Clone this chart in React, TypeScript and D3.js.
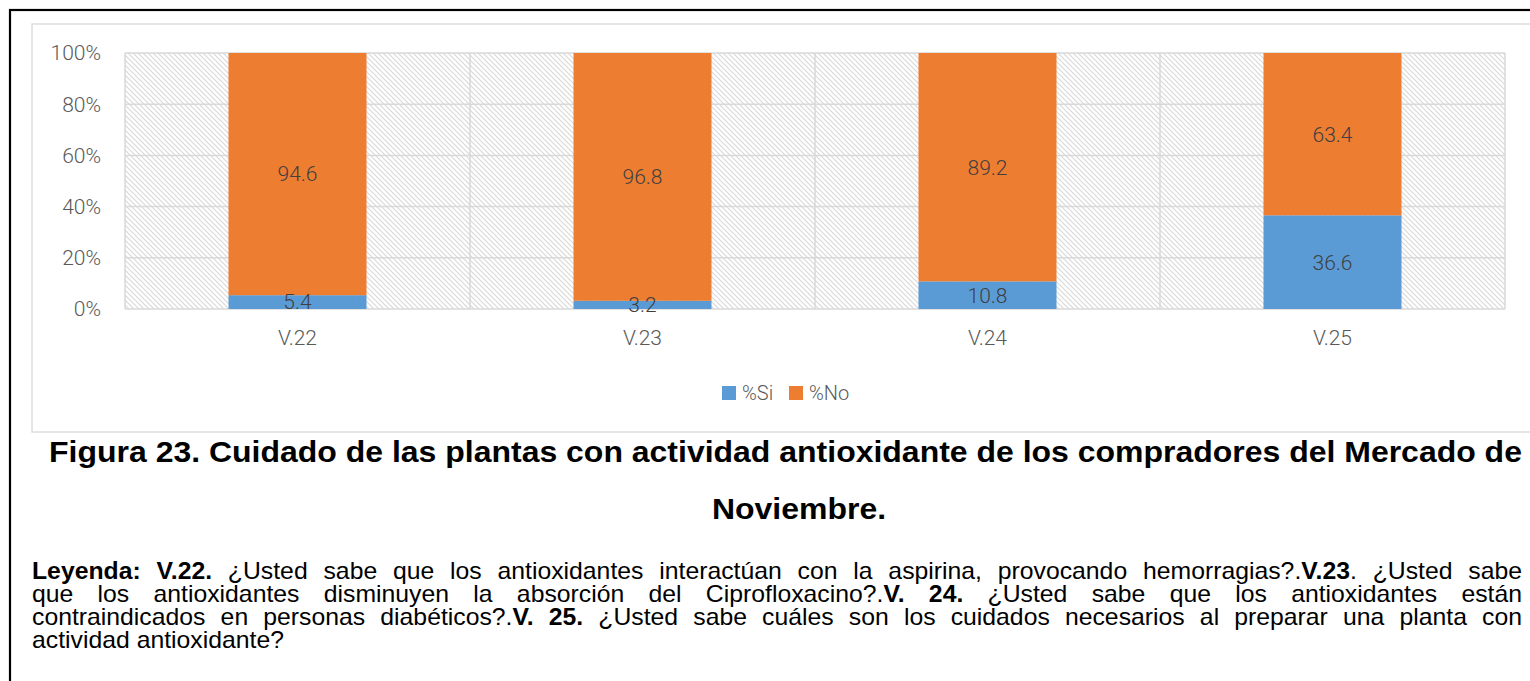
import React from "react";
import * as d3 from "d3";

const categories = ["V.22", "V.23", "V.24", "V.25"];
const siValues = [5.4, 3.2, 10.8, 36.6];
const noValues = [94.6, 96.8, 89.2, 63.4];
const seriesNames = ["%Si", "%No"];
const seriesColors = ["#5B9BD5", "#ED7D31"];
const yTicks = [0, 20, 40, 60, 80, 100];

const titleLines = [
  "Figura 23. Cuidado de las plantas con actividad antioxidante de los compradores del Mercado de",
  "Noviembre.",
];

type Run = { t: string; b?: boolean };
const legendLines: Run[][] = [
  [
    { t: "Leyenda: V.22.", b: true },
    { t: " ¿Usted sabe que los antioxidantes interactúan con la aspirina, provocando hemorragias?." },
    { t: "V.23", b: true },
    { t: ". ¿Usted sabe" },
  ],
  [
    { t: "que los antioxidantes disminuyen la absorción del Ciprofloxacino?." },
    { t: "V. 24.", b: true },
    { t: " ¿Usted sabe que los antioxidantes están" },
  ],
  [
    { t: "contraindicados en personas diabéticos?." },
    { t: "V. 25.", b: true },
    { t: " ¿Usted sabe cuáles son los cuidados necesarios al preparar una planta con" },
  ],
  [{ t: "actividad antioxidante?" }],
];

const CHART_FONT = "Roboto, 'Open Sans', sans-serif";
const DOC_FONT = "'Liberation Sans', Arial, sans-serif";
const PARA_SIZE = 23;
const PARA_SX = 1.077;
const TITLE_SIZE = 30;

let ctx: CanvasRenderingContext2D | null = null;
function measure(text: string, bold: boolean, size = PARA_SIZE) {
  if (!ctx) ctx = document.createElement("canvas").getContext("2d");
  if (!ctx) return text.length * size * 0.5;
  ctx.font = `${bold ? "bold " : ""}${size}px 'Liberation Sans', Arial, sans-serif`;
  return ctx.measureText(text).width;
}

function toWords(runs: Run[]) {
  const words: Run[][] = [];
  let cur: Run[] = [];
  runs.forEach((r) => {
    const parts = r.t.split(" ");
    parts.forEach((p, i) => {
      if (i > 0) {
        if (cur.length) words.push(cur);
        cur = [];
      }
      if (p.length) cur.push({ t: p, b: r.b });
    });
  });
  if (cur.length) words.push(cur);
  return words;
}

export default function App() {
  const W = 1530;
  const H = 681;
  const plot = { left: 125, right: 1505, top: 53, bottom: 309 };

  const x = d3
    .scaleBand<string>()
    .domain(categories)
    .range([plot.left, plot.right])
    .paddingInner(0.6)
    .paddingOuter(0.3);
  const step = x.step();
  const y = d3.scaleLinear().domain([0, 100]).range([plot.bottom, plot.top]);

  const table = categories.map((c, i) => ({ cat: c, si: siValues[i], no: noValues[i] }));
  const stacked = d3.stack<any>().keys(["si", "no"])(table);

  const boundaries = d3.range(categories.length + 1).map((i) => plot.left + i * step);

  const paraLeft = 32;
  const paraRight = 1522;
  const paraBaselines = [579, 602, 625, 648];

  // title line 1 spans 49..1522 in the figure
  const t1w = measure(titleLines[0], true, TITLE_SIZE);
  const titleSx = (1522 - 49) / t1w;
  const titleCenters = [785.5, 799];

  return (
    <svg
      width={W}
      height={H}
      style={{ position: "absolute", left: 0, top: 0, background: "#fff" }}
    >
      <defs>
        <pattern id="hatch" width="5" height="5" patternUnits="userSpaceOnUse">
          <rect width="5" height="5" fill="#ffffff" />
          <path d="M-1,-1 L6,6 M-1,4 L1,6 M4,-1 L6,1" stroke="#d9d9d9" strokeWidth="1.2" />
        </pattern>
      </defs>

      <rect x={10} y={10} width={1600} height={800} fill="none" stroke="#000" strokeWidth={2.2} />
      <rect x={32} y={24} width={1600} height={408} fill="none" stroke="#d9d9d9" strokeWidth={1.3} />

      <rect
        x={plot.left}
        y={plot.top}
        width={plot.right - plot.left}
        height={plot.bottom - plot.top}
        fill="url(#hatch)"
      />
      {yTicks.map((t) => (
        <line
          key={"g" + t}
          x1={plot.left}
          x2={plot.right}
          y1={y(t)}
          y2={y(t)}
          stroke="#d9d9d9"
          strokeWidth={1.5}
        />
      ))}
      {boundaries.map((bx, i) => (
        <line
          key={"v" + i}
          x1={bx}
          x2={bx}
          y1={plot.top}
          y2={plot.bottom}
          stroke="#d9d9d9"
          strokeWidth={1.5}
        />
      ))}

      {stacked.map((s, si) =>
        s.map((d, i) => (
          <rect
            key={si + "-" + i}
            x={x(categories[i])}
            width={x.bandwidth()}
            y={y(d[1])}
            height={y(d[0]) - y(d[1])}
            fill={seriesColors[si]}
          />
        ))
      )}
      {stacked.map((s, si) =>
        s.map((d, i) => (
          <text
            key={"l" + si + "-" + i}
            x={(x(categories[i]) as number) + x.bandwidth() / 2}
            y={(y(d[0]) + y(d[1])) / 2}
            dy="0.35em"
            textAnchor="middle"
            fontFamily={CHART_FONT}
            fontWeight={300}
            fontSize={21}
            fill="#404040"
          >
            {(si === 0 ? siValues[i] : noValues[i]).toFixed(1)}
          </text>
        ))
      )}

      {yTicks.map((t) => (
        <text
          key={"yt" + t}
          x={101}
          y={y(t)}
          dy="0.35em"
          textAnchor="end"
          fontFamily={CHART_FONT}
          fontWeight={300}
          fontSize={21}
          fill="#595959"
        >
          {t + "%"}
        </text>
      ))}
      {categories.map((c) => (
        <text
          key={"xt" + c}
          x={(x(c) as number) + x.bandwidth() / 2}
          y={338}
          dy="0.35em"
          textAnchor="middle"
          fontFamily={CHART_FONT}
          fontWeight={300}
          fontSize={21}
          fill="#595959"
        >
          {c}
        </text>
      ))}

      {seriesNames.map((n, i) => {
        const lx = i === 0 ? 722 : 789;
        return (
          <g key={"lg" + n}>
            <rect x={lx} y={386} width={14} height={14} fill={seriesColors[i]} />
            <text
              x={lx + 20}
              y={393}
              dy="0.35em"
              fontFamily={CHART_FONT}
              fontWeight={300}
              fontSize={20}
              fill="#595959"
            >
              {n}
            </text>
          </g>
        );
      })}

      {titleLines.map((t, i) => (
        <text
          key={"t" + i}
          transform={`translate(${titleCenters[i]},${462 + i * 57}) scale(${titleSx},1)`}
          textAnchor="middle"
          fontFamily={DOC_FONT}
          fontWeight="bold"
          fontSize={TITLE_SIZE}
          fill="#000"
        >
          {t}
        </text>
      ))}

      {legendLines.map((runs, li) => {
        const words = toWords(runs);
        const widths = words.map(
          (w) => w.reduce((a, r) => a + measure(r.t, !!r.b), 0) * PARA_SX
        );
        const total = widths.reduce((a, b) => a + b, 0);
        const justify = li < legendLines.length - 1 && words.length > 1;
        const gap = justify
          ? (paraRight - paraLeft - total) / (words.length - 1)
          : measure(" ", false) * PARA_SX;
        let cx = paraLeft;
        return (
          <g key={"p" + li}>
            {words.map((w, wi) => {
              const wx = cx;
              cx += widths[wi] + gap;
              return (
                <text
                  key={wi}
                  transform={`translate(${wx},${paraBaselines[li]}) scale(${PARA_SX},1)`}
                  fontFamily={DOC_FONT}
                  fontSize={PARA_SIZE}
                  fill="#000"
                >
                  {w.map((r, ri) => (
                    <tspan key={ri} fontWeight={r.b ? "bold" : "normal"}>
                      {r.t}
                    </tspan>
                  ))}
                </text>
              );
            })}
          </g>
        );
      })}
    </svg>
  );
}
